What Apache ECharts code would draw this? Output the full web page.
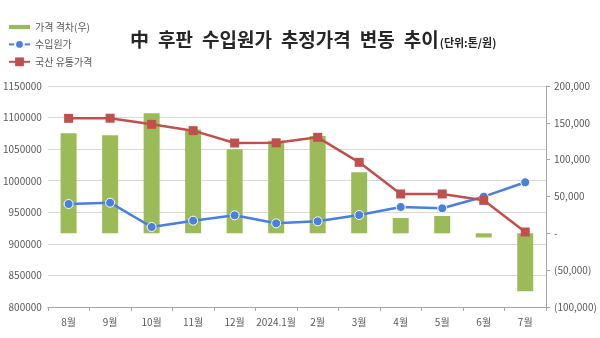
<!DOCTYPE html>
<html><head><meta charset="utf-8">
<script src="https://cdn.jsdelivr.net/npm/echarts@6/dist/echarts.min.js"></script>
<style>html,body{margin:0;padding:0;background:#fff}#c{width:600px;height:338px}</style>
</head><body><div id="c"></div>
<script>
const categories = ['8월','9월','10월','11월','12월','2024.1월','2월','3월','4월','5월','6월','7월'];
const gapValues = [135700, 133000, 163000, 141000, 114000, 125700, 132000, 82800, 20800, 23500, -5600, -78500];
const importCost = [963100, 965200, 926700, 936700, 945200, 932500, 935700, 945700, 958400, 956300, 974700, 997500];
const domesticPrice = [1098800, 1099000, 1089300, 1079300, 1059700, 1060000, 1068700, 1029100, 979000, 979000, 968900, 918800];
const seriesNames = ['가격 격차(우)', '수입원가', '국산 유통가격'];
const titleText = '中 후판 수입원가 추정가격 변동 추이';
const unitText = '(단위:톤/원)';

const font = '"Noto Sans CJK KR", "Noto Sans", sans-serif';
const chart = echarts.init(document.getElementById('c'));
function fmtRight(v){
  if (v === 0) return '-';
  const s = Math.abs(v).toLocaleString('en-US');
  return v < 0 ? '(' + s + ')' : s;
}
const titleRich = titleText.split(' ').map(w => '{a|' + w + '}').join('{s| }') + '{b|' + unitText + '}';
chart.setOption({
  animation: false,
  textStyle: {fontFamily: font},
  title: {
    text: titleRich,
    left: 125, top: 25,
    textStyle: {
      rich: {
        a: {fontSize: 19, fontWeight: 'bold', color: '#262626', fontFamily: font},
        s: {fontSize: 19, width: 9},
        b: {fontSize: 11, color: '#262626', fontFamily: font, padding: [6, 0, 0, 1]}
      }
    }
  },
  legend: {
    orient: 'vertical', left: 3, top: 17, itemGap: 7,
    itemWidth: 21, itemHeight: 11,
    textStyle: {fontSize: 10, color: '#595959', fontFamily: font},
    data: [
      {name: seriesNames[0], icon: 'path://M0,3.5 L20,3.5 L20,7.5 L0,7.5 Z'},
      {name: seriesNames[1]},
      {name: seriesNames[2]}
    ]
  },
  grid: {left: 45, right: 54, top: 86, bottom: 31},
  xAxis: {
    type: 'category', data: categories, boundaryGap: true,
    axisLine: {onZero: false, lineStyle: {color: '#A6A6A6'}},
    axisTick: {show: true, alignWithLabel: false, length: 4, lineStyle: {color: '#A6A6A6'}},
    axisLabel: {fontSize: 10, color: '#595959', margin: 10, interval: 0}
  },
  yAxis: [
    {
      type: 'value', min: 800000, max: 1150000, interval: 50000,
      axisLine: {show: false}, axisTick: {show: false},
      splitLine: {lineStyle: {color: '#D9D9D9'}},
      axisLabel: {fontSize: 10, color: '#595959', margin: 6, formatter: v => String(v)}
    },
    {
      type: 'value', min: -100000, max: 200000, interval: 50000,
      alignTicks: false,
      axisLine: {show: true, lineStyle: {color: '#A6A6A6'}},
      axisTick: {show: true, length: 4, lineStyle: {color: '#A6A6A6'}},
      splitLine: {show: false},
      axisLabel: {fontSize: 10, color: '#595959', margin: 8, formatter: fmtRight}
    }
  ],
  series: [
    {
      name: seriesNames[0], type: 'bar', yAxisIndex: 1, data: gapValues,
      barWidth: 16, itemStyle: {color: '#9BBB59'}
    },
    {
      name: seriesNames[1], type: 'line', yAxisIndex: 0, data: importCost,
      symbol: 'circle', symbolSize: 9,
      lineStyle: {color: '#4A7FE0', width: 2.5},
      itemStyle: {color: '#4A7FE0', borderColor: '#fff', borderWidth: 1}
    },
    {
      name: seriesNames[2], type: 'line', yAxisIndex: 0, data: domesticPrice,
      symbol: 'rect', symbolSize: 9,
      lineStyle: {color: '#C0504D', width: 2.5},
      itemStyle: {color: '#C0504D'}
    }
  ]
});
</script></body></html>
